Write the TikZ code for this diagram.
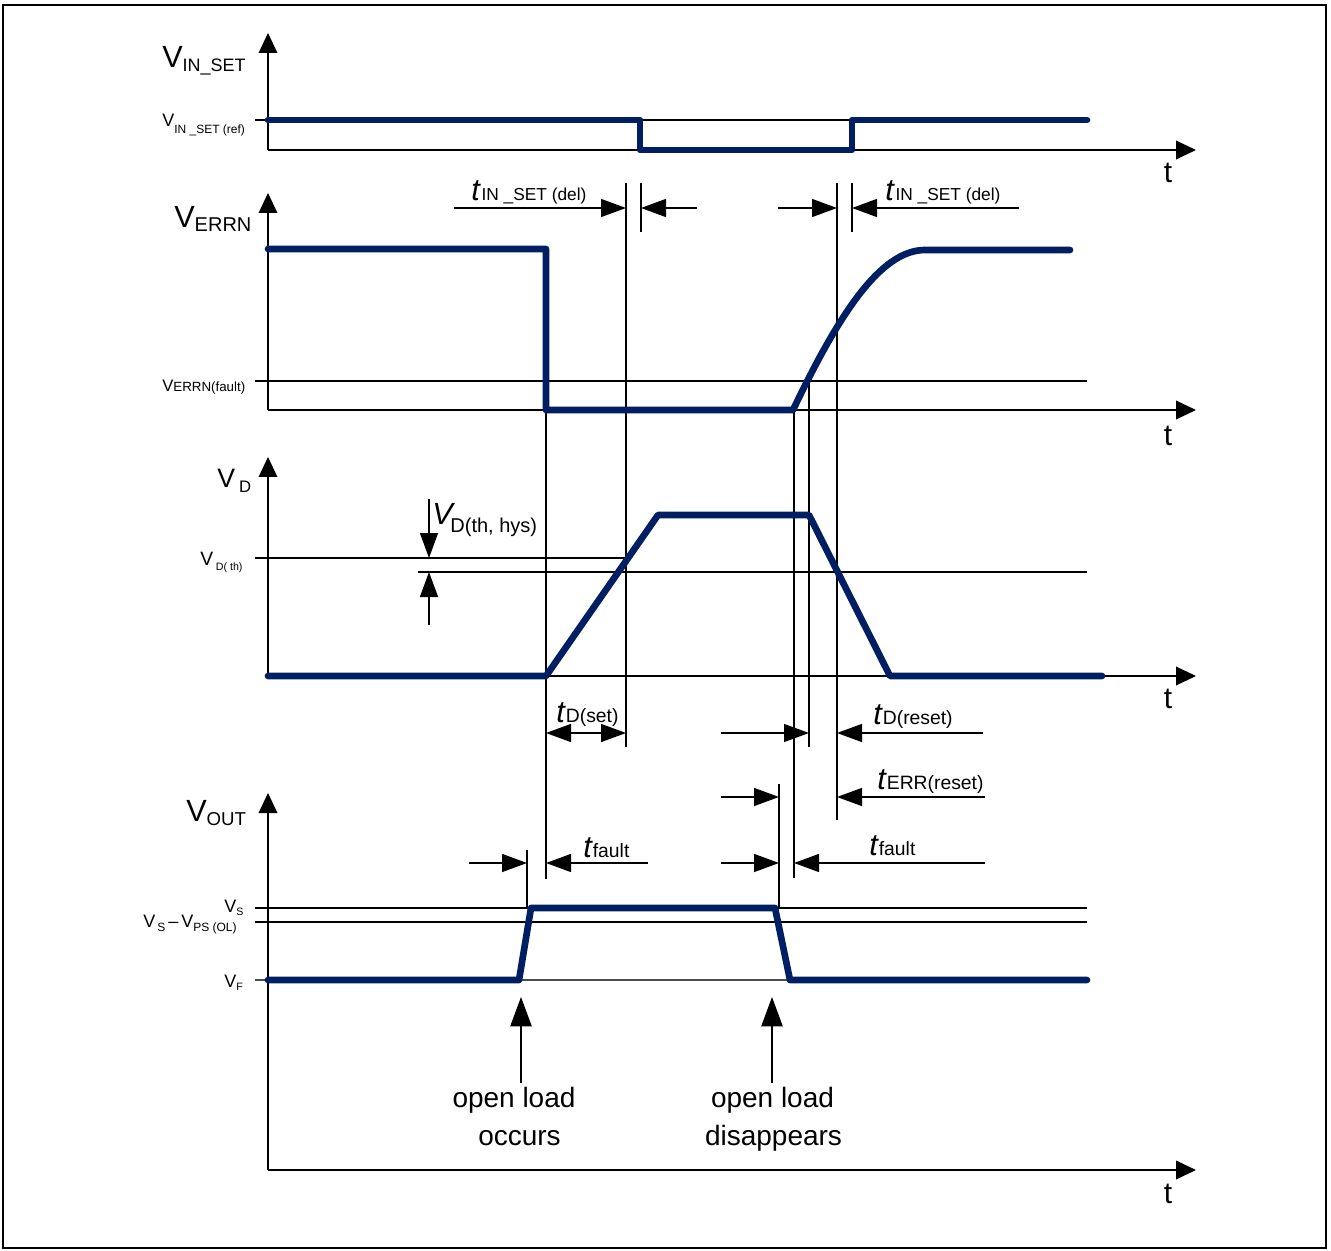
\documentclass[tikz,border=0pt]{standalone}
\usepackage{fontspec}
\setmainfont{Liberation Sans}
\usetikzlibrary{arrows.meta}
\definecolor{navy}{RGB}{0,30,98}
\newcommand\myfs[1]{\fontsize{#1}{#1}\selectfont}
\newcommand\myt{{\myfs{23}\textit{t}}}
\begin{document}
\begin{tikzpicture}[x=0.75pt,y=-0.75pt,
  thin/.style={line width=1pt},
  sig/.style={line width=5pt,navy,line join=round,line cap=round},
  axis/.style={line width=1pt,-{Triangle[length=15pt,width=14pt]}},
  dim/.style={line width=1pt,-{Triangle[length=18.75pt,width=13.5pt]}},
  dimboth/.style={line width=1pt,{Triangle[length=18.75pt,width=13.5pt]}-{Triangle[length=18.75pt,width=13.5pt]}},
  bigarr/.style={line width=1pt,-{Triangle[length=22pt,width=16pt]}},
  lab/.style={inner sep=0pt,anchor=base west},
  tlab/.style={inner sep=0pt,anchor=base,font=\myfs{22.5}},
  oltext/.style={inner sep=0pt,anchor=base,font=\myfs{21}}]

\useasboundingbox (0,0) rectangle (1331,1251);
\draw[line width=1.1pt] (3,5) rectangle (1326,1248);

% reference levels
\draw[thin] (255,120) -- (1087,120);
\draw[thin] (255,381) -- (1087,381);
\draw[thin] (255,558) -- (628,558);
\draw[thin] (418,572) -- (1087,572);
\draw[thin] (255,908) -- (1087,908);
\draw[thin] (255,922) -- (1087,922);
\draw[thin,black!70] (255,980) -- (1087,980);

% axes
\foreach \ya/\tip in {150/33,410/193,676/457,1170/793}{
  \draw[axis] (268,\ya) -- (268,\tip);
  \draw[axis] (268,\ya) -- (1196,\ya);
}
\node[tlab] (t1) at (1168,183) {t};
\node[tlab] (t2) at (1168,446) {t};
\node[tlab] (t3) at (1168,708) {t};
\node[tlab] (t4) at (1168,1203) {t};

% marker lines
\coordinate (m626a) at (626,183); \coordinate (m626b) at (626,747);
\coordinate (m641a) at (641,183); \coordinate (m641b) at (641,232);
\coordinate (m837a) at (837,183); \coordinate (m837b) at (837,820);
\coordinate (m852a) at (852,183); \coordinate (m852b) at (852,232);
\draw[thin] (m626a) -- (m626b);
\draw[thin] (m641a) -- (m641b);
\draw[thin] (m837a) -- (m837b);
\draw[thin] (m852a) -- (m852b);
\draw[thin] (546,249) -- (546,879);
\draw[thin] (794,410) -- (794,878);
\draw[thin] (809,381) -- (809,747);
\draw[thin] (779,784) -- (779,908);
\draw[thin] (527,850) -- (527,908);

% dimension arrows
\draw[dim] (454,208) -- (626,208);
\draw[dim] (697,208) -- (641,208);
\draw[dim] (778,208) -- (837,208);
\draw[dim] (1019,208) -- (852,208);
\draw[dimboth] (546,733) -- (626,733);
\draw[dim] (721,733) -- (809,733);
\draw[dim] (983,733) -- (837,733);
\draw[dim] (721,797) -- (779,797);
\draw[dim] (985,797) -- (837,797);
\draw[dim] (469,863) -- (527,863);
\draw[dim] (648,863) -- (546,863);
\draw[dim] (721,863) -- (779,863);
\draw[dim] (985,863) -- (794,863);
\draw[dim] (429,499) -- (429,558);
\draw[dim] (429,625) -- (429,572);
\draw[bigarr] (521,1083) -- (521,997);
\draw[bigarr] (772,1083) -- (772,997);

% signals
\draw[sig] (268,120) -- (640,120) -- (640,150) -- (852,150) -- (852,120) -- (1087,120);
\draw[sig] (268,249) -- (546,249) -- (546,410) -- (793,410)
   .. controls (838,316) and (880,250) .. (925,250) -- (1070,250);
\draw[sig] (268,676) -- (546,676) -- (658,515) -- (809,515) -- (890,676) -- (1102,676);
\draw[sig] (268,980) -- (519,980) -- (531,908) -- (775,908) -- (790,980) -- (1087,980);

% axis labels
\node[lab] (lvin) at (162,68) {\myfs{23}V\raisebox{-3pt}{\myfs{13.5}IN\_SET}};
\node[lab] (lverrn) at (174,228) {\myfs{23}V\raisebox{-3pt}{\myfs{15}ERRN}};
\node[lab] (lvd) at (217,488) {\myfs{20}V\hspace{3pt}\raisebox{-3.5pt}{\myfs{12.5}D}};
\node[lab] (lvout) at (186,821) {\myfs{23}V\raisebox{-3pt}{\myfs{14}OUT}};

% level labels
\node[lab] (lref) at (162,127) {\myfs{13.5}V\raisebox{-5pt}{\myfs{9}IN \_SET (ref)}};
\node[lab] (lfault) at (162,392) {\myfs{12.5}V{\myfs{10}ERRN(fault)}};
\node[lab] (lvdth) at (200,565) {\myfs{14.5}V\hspace{2pt}\raisebox{-4pt}{\myfs{8}D( th)}};
\node[lab] (lvs) at (224,912) {\myfs{13.5}V\raisebox{-2.5pt}{\myfs{8}S}};
\node[lab] (lvsps) at (143,927) {\myfs{13.5}V\raisebox{-3pt}{\myfs{9}\,S}\,–\,V\raisebox{-3pt}{\myfs{9}PS (OL)}};
\node[lab] (lvf) at (224,987) {\myfs{13.5}V\raisebox{-2.5pt}{\myfs{8}F}};

% timing labels
\node[lab] (ldel1) at (471,201) {\myt\hspace{0.5pt}\myfs{13}IN \_SET (del)};
\node[lab] (ldel2) at (885,201) {\myt\hspace{0.5pt}\myfs{13}IN \_SET (del)};
\node[lab] (ldset) at (556,722) {\myt\myfs{14.5}D(set)};
\node[lab] (ldreset) at (873,724) {\myt\myfs{14.5}D(reset)};
\node[lab] (lerr) at (877,789) {\myt\myfs{14.5}ERR(reset)};
\node[lab] (lfault1) at (583,857) {\myt\myfs{14.5}fault};
\node[lab] (lfault2) at (869,855) {\myt\myfs{14.5}fault};
\node[lab] (lhys) at (432,524) {\myfs{23}\textit{V}\hspace{-3.5pt}\raisebox{-6pt}{\myfs{15}D(th, hys)}};

% open load texts
\node[oltext] (ol1) at (514,1107) {open load};
\node[oltext] (ol2) at (519.5,1145) {occurs};
\node[oltext] (ol3) at (772.5,1107) {open load};
\node[oltext] (ol4) at (773.5,1145) {disappears};
\end{tikzpicture}
\end{document}
